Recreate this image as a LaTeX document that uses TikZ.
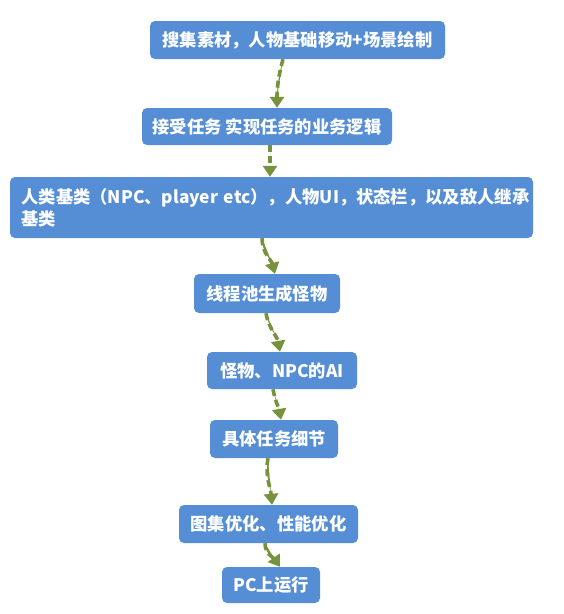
\documentclass[tikz,border=0pt]{standalone}
\usepackage{fontspec}
\setmainfont{Noto Sans CJK SC}
\usetikzlibrary{arrows.meta}
\definecolor{boxblue}{HTML}{558ED5}
\definecolor{arrgreen}{HTML}{76923C}
\tikzset{
  stepbox/.style={rectangle, rounded corners=5pt, fill=boxblue, text=white,
    font=\fontsize{17.3}{22}\selectfont\bfseries, inner sep=0pt},
  flowarrow/.style={draw=arrgreen, line width=3.6pt, dash pattern=on 7pt off 4pt,
    -{Triangle[width=14pt,length=11pt]}, fill=arrgreen}
}
\begin{document}
\begin{tikzpicture}[x=1pt,y=-1pt]
\useasboundingbox (0,0) rectangle (564,614);
\fill[white] (0,0) rectangle (564,614);
\node[stepbox, minimum width=295pt, minimum height=38pt] (b1) at (297.5,40) {搜集素材，人物基础移动+场景绘制};
\node[stepbox, minimum width=250pt, minimum height=37pt] (b2) at (267,126.5) {接受任务 实现任务的业务逻辑};
\node[stepbox, minimum width=523pt, minimum height=61pt, text width=500pt, align=left] (b3) at (271.5,207.5) {人类基类（NPC、player etc），人物UI，状态栏，以及敌人继承\\基类};
\node[stepbox, minimum width=146pt, minimum height=39pt] (b4) at (267,293.5) {线程池生成怪物};
\node[stepbox, minimum width=150pt, minimum height=37pt] (b5) at (282,370.5) {怪物、NPC的AI};
\node[stepbox, minimum width=128pt, minimum height=38pt] (b6) at (274,439) {具体任务细节};
\node[stepbox, minimum width=179pt, minimum height=38pt] (b7) at (268.5,524) {图集优化、性能优化};
\node[stepbox, minimum width=98pt, minimum height=36pt] (b8) at (271,585) {PC上运行};
\draw[flowarrow] ([xshift=-14.5pt]b1.south) to[out=-105,in=90] ([xshift=10pt]b2.north);
\draw[flowarrow] ([xshift=3pt]b2.south) to[out=-90,in=90] ([xshift=-1.5pt]b3.north);
\draw[flowarrow] ([xshift=-9.5pt]b3.south) to[out=-90,in=105] ([xshift=8pt]b4.north);
\draw[flowarrow] ([xshift=-1pt]b4.south) to[out=-80,in=100] ([xshift=-2pt]b5.north);
\draw[flowarrow] ([xshift=-9pt]b5.south) to[out=-80,in=100] ([xshift=7pt]b6.north);
\draw[flowarrow] ([xshift=-6pt]b6.south) to[out=-100,in=95] ([xshift=3.5pt]b7.north);
\draw[flowarrow] ([xshift=-3.5pt]b7.south) to[out=-90,in=125] ([xshift=9pt]b8.north);
\end{tikzpicture}
\end{document}
